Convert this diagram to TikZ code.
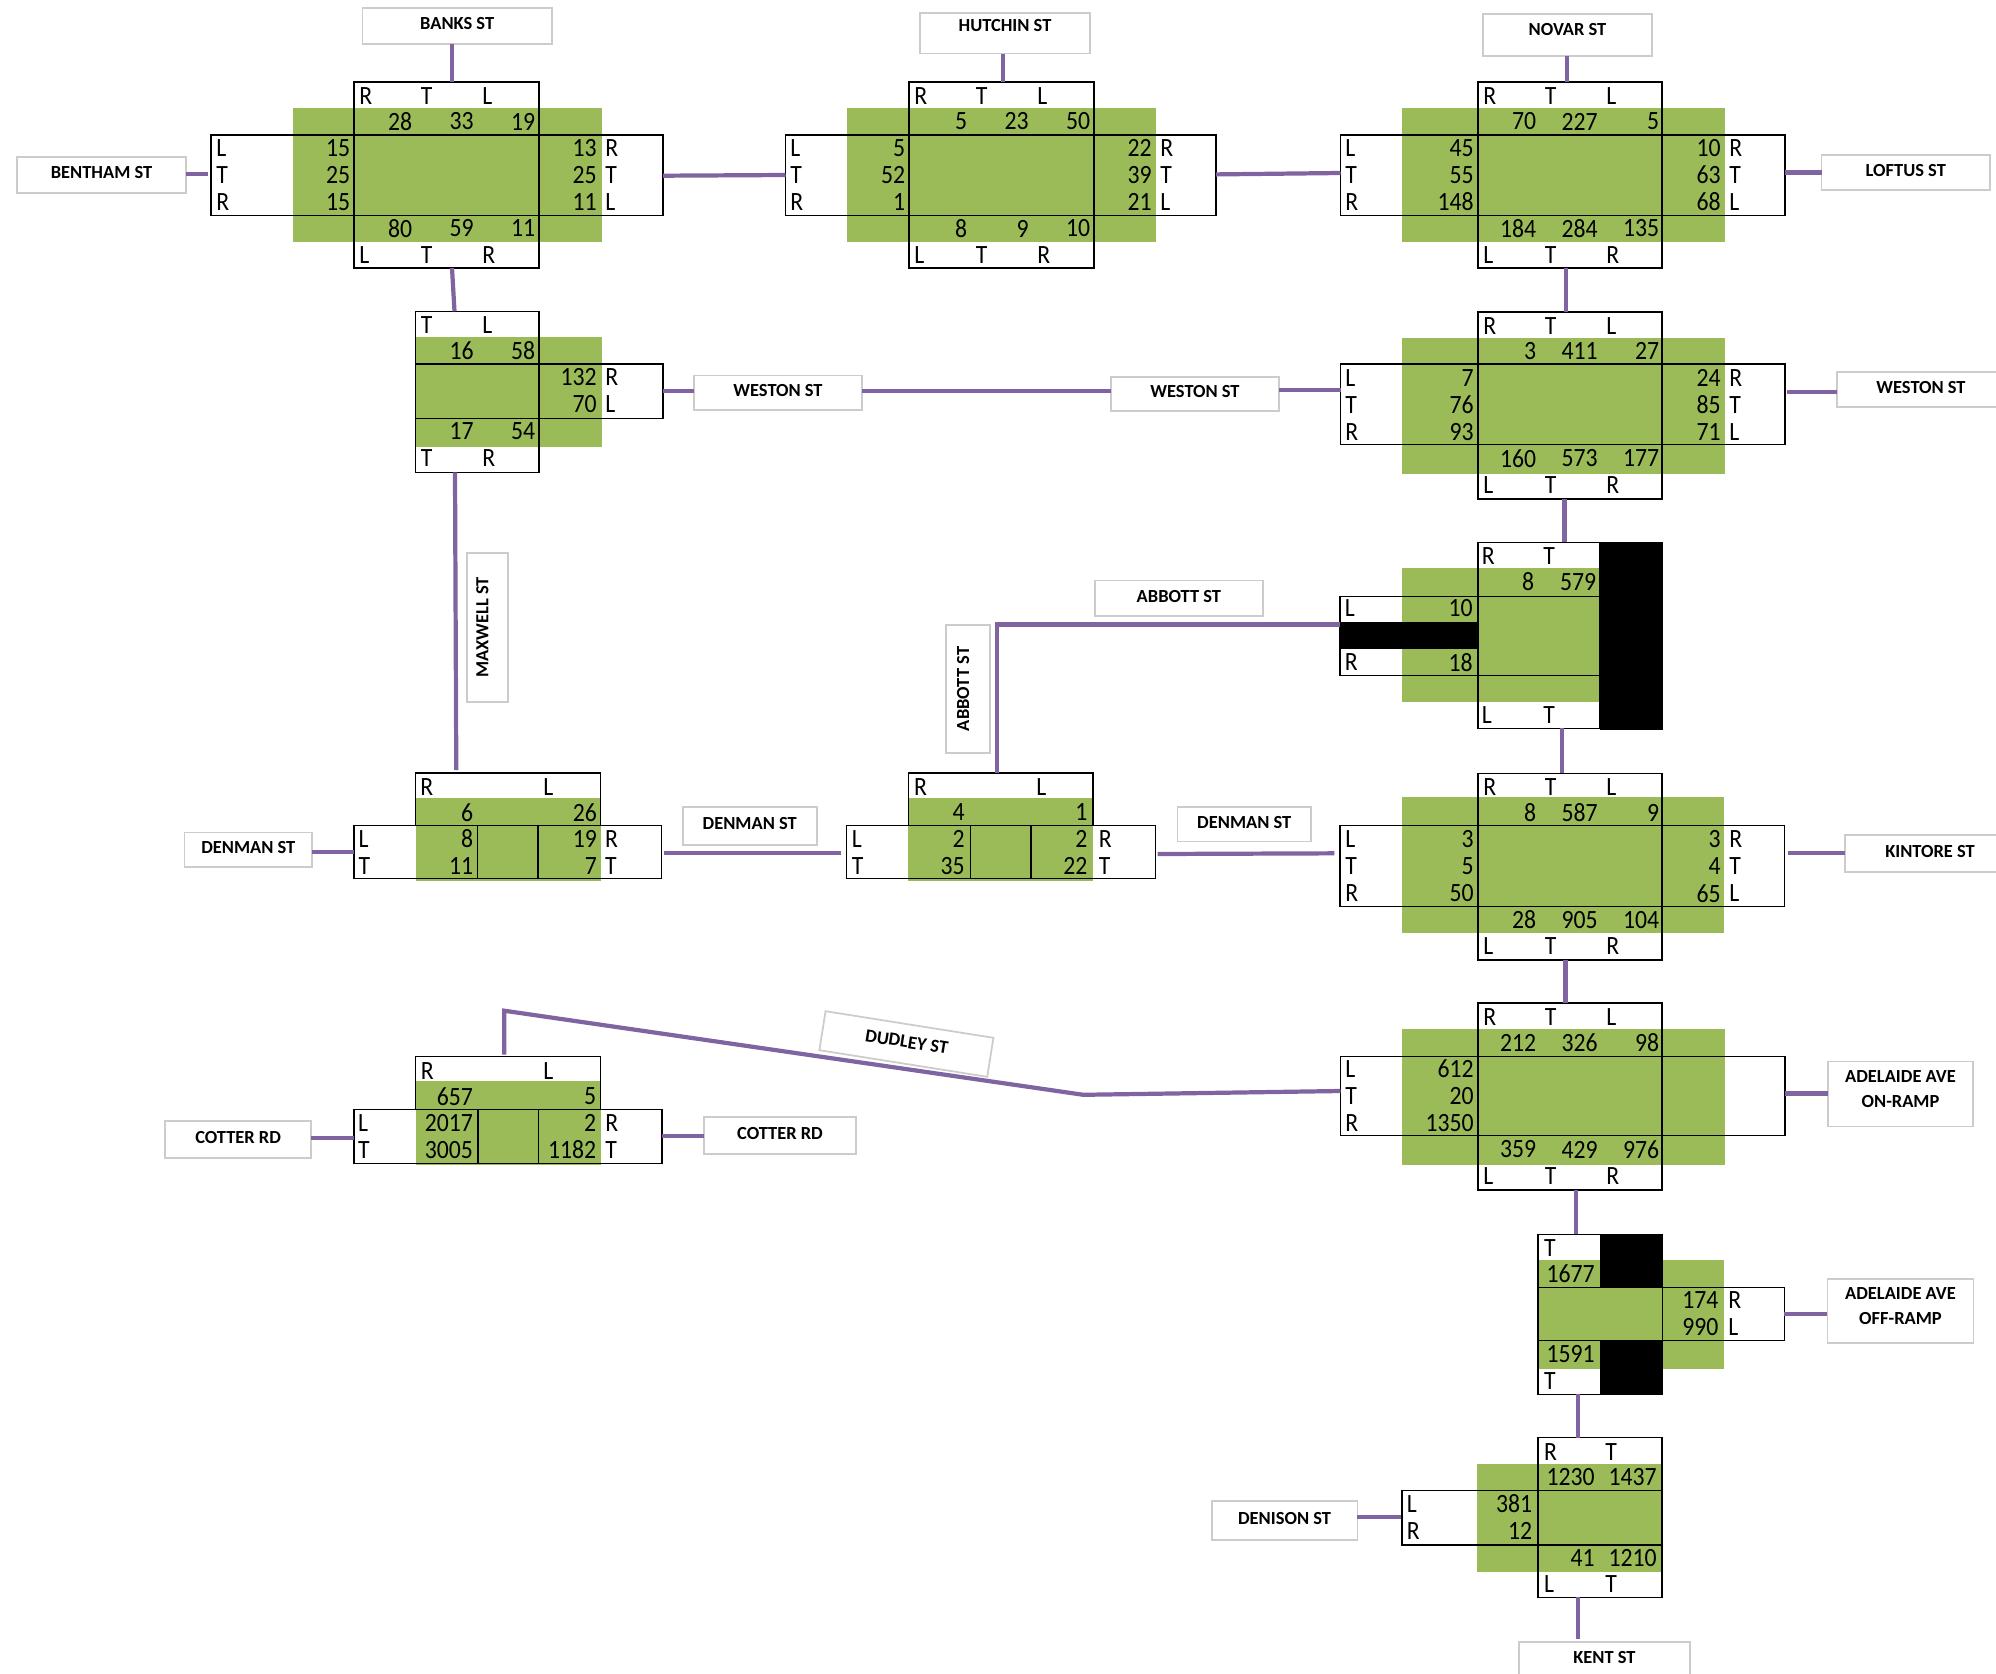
\documentclass[tikz,border=0pt]{standalone}
\usepackage{fontspec}
\setmainfont{Carlito}
\newfontfamily\cellfont[FakeStretch=0.9]{Carlito}
\definecolor{grn}{HTML}{9BBB59}
\definecolor{roadc}{HTML}{8064A2}
\tikzset{
  road/.style={draw=roadc,line width=2.4pt},
  street/.style={draw=black!20,line width=1pt,fill=white,inner sep=0pt,outer sep=0pt,align=center,text depth=2.5pt,font=\fontsize{10.5}{14}\selectfont\bfseries},
  gridbox/.style={draw=black,line width=0.8pt,inner sep=0pt,outer sep=0pt},
  lett/.style={anchor=west,inner sep=0pt,font=\cellfont\fontsize{15}{17}\selectfont},
  numb/.style={anchor=east,inner sep=0pt,font=\cellfont\fontsize{15}{17}\selectfont},
}
\begin{document}
\begin{tikzpicture}[x=0.02cm,y=-0.02cm]
  \useasboundingbox (0,0) rectangle (1996,1674);
  % table rows, measured from the top of a junction
  \def\yA{14}\def\yB{39.5}\def\yC{66}\def\yD{93}\def\yE{120}\def\yF{146.5}\def\yG{173}
  \def\Grid#1#2#3#4#5{\node[gridbox,minimum width={(#4-(#2))*0.02cm},minimum height={(#5-(#3))*0.02cm}] (#1) at ({(#2+#4)/2},{(#3+#5)/2}){};}
  \def\Sign#1#2#3#4#5#6#7{\node[street,#1,minimum width={(#5-(#3))*0.02cm},minimum height={(#6-(#4))*0.02cm}] (#2) at ({(#3+#5)/2},{(#4+#6)/2}){#7};}
  \def\Lets#1#2#3{\foreach[count=\nn] \xv/\tx in {#3}{\node[lett] (l#1#2\nn) at(\xv,\csname y#2\endcsname){\tx};}}
  \def\Nums#1#2#3{\foreach[count=\nn] \xv/\tx in {#3}{\node[numb] (n#1#2\nn) at(\xv,\csname y#2\endcsname){\tx};}}
  % street names
  \Sign{}{banks}{362.5}{7.7}{551.8}{43.7}{BANKS ST}
  \Sign{}{bentham}{17}{157}{186}{192.7}{BENTHAM ST}
  \Sign{text depth=9pt}{hutchin}{920}{12.7}{1090}{53.5}{HUTCHIN ST}
  \Sign{text depth=6pt}{novar}{1483}{14}{1652}{56}{NOVAR ST}
  \Sign{}{loftus}{1821.6}{155}{1990}{190}{LOFTUS ST}
  \Sign{}{westonA}{694}{375.5}{862}{410}{WESTON ST}
  \Sign{}{westonB}{1111}{377}{1279}{411}{WESTON ST}
  \Sign{}{westonC}{1837}{372}{2005}{407}{WESTON ST}
  \Sign{}{abbottH}{1094.7}{580.5}{1263}{616}{ABBOTT ST}
  \Sign{}{denmanA}{184.6}{832.5}{312}{867}{DENMAN ST}
  \Sign{}{denmanB}{682.8}{807.3}{816.7}{844.7}{DENMAN ST}
  \Sign{}{denmanC}{1177.5}{807}{1311}{841.5}{DENMAN ST}
  \Sign{}{kintore}{1845}{835}{2015}{872}{KINTORE ST}
  \Sign{text depth=6pt}{onramp}{1828}{1061.6}{1973}{1126.6}{ADELAIDE AVE\\ON-RAMP}
  \Sign{text depth=6pt}{offramp}{1827.4}{1279.3}{1973.6}{1343.3}{ADELAIDE AVE\\OFF-RAMP}
  \Sign{}{denison}{1211.7}{1501}{1357.4}{1539.7}{DENISON ST}
  \Sign{}{kent}{1518.8}{1642}{1689.9}{1678}{KENT ST}
  \Sign{}{cotterA}{165}{1121}{311.3}{1158.3}{COTTER RD}
  \Sign{}{cotterB}{704}{1117}{856}{1154.3}{COTTER RD}
  \node[street,rotate=90,text depth=6pt,minimum width=2.99cm,minimum height=0.83cm] (maxwell) at (487.6,627.5){MAXWELL ST};
  \node[street,rotate=90,text depth=5.5pt,minimum width=2.57cm,minimum height=0.87cm] (abbottV) at (968,689){ABBOTT ST};
  \node[street,rotate=-9,minimum width=3.4cm,minimum height=0.79cm] (dudley) at (906.4,1044){DUDLEY ST};
  % Banks St
  \begin{scope}[shift={(354,82)}]
    \fill[grn](-61.5,26)rectangle(248,160);
    \Grid{jav}{0}{0}{185}{186}\Grid{jah}{-143}{53}{309}{133.5}
    \Lets{ja}{A}{5/R,66.5/T,128/L}\Nums{ja}{B}{58.5/28,120/33,181.5/19}
    \Lets{ja}{C}{-138/L,251/R}\Nums{ja}{C}{-3.5/15,243/13}
    \Lets{ja}{D}{-138/T,251/T}\Nums{ja}{D}{-3.5/25,243/25}
    \Lets{ja}{E}{-138/R,251/L}\Nums{ja}{E}{-3.5/15,243/11}
    \Nums{ja}{F}{58.5/80,120/59,181.5/11}\Lets{ja}{G}{5/L,66.5/T,128/R}
  \end{scope}
  % Hutchin St
  \begin{scope}[shift={(909,82)}]
    \fill[grn](-62.5,26)rectangle(247,160);
    \Grid{jbv}{0}{0}{185}{186}\Grid{jbh}{-123.5}{53}{307}{133.5}
    \Lets{jb}{A}{5/R,66.5/T,128/L}\Nums{jb}{B}{58.5/5,120/23,181.5/50}
    \Lets{jb}{C}{-119/L,251/R}\Nums{jb}{C}{-3.5/5,243/22}
    \Lets{jb}{D}{-119/T,251/T}\Nums{jb}{D}{-3.5/52,243/39}
    \Lets{jb}{E}{-119/R,251/L}\Nums{jb}{E}{-3.5/1,243/21}
    \Nums{jb}{F}{58.5/8,120/9,181.5/10}\Lets{jb}{G}{5/L,66.5/T,128/R}
  \end{scope}
  % Novar St
  \begin{scope}[shift={(1478,82)}]
    \fill[grn](-76,26)rectangle(247,160);
    \Grid{jcv}{0}{0}{184}{186}\Grid{jch}{-137.5}{53}{307}{133.5}
    \Lets{jc}{A}{5/R,66.5/T,128/L}\Nums{jc}{B}{58.5/70,120/227,181.5/5}
    \Lets{jc}{C}{-133/L,251/R}\Nums{jc}{C}{-4/45,243/10}
    \Lets{jc}{D}{-133/T,251/T}\Nums{jc}{D}{-4/55,243/63}
    \Lets{jc}{E}{-133/R,251/L}\Nums{jc}{E}{-4/148,243/68}
    \Nums{jc}{F}{58.5/184,120/284,181.5/135}\Lets{jc}{G}{5/L,66.5/T,128/R}
  \end{scope}
  % Weston St, west end
  \begin{scope}[shift={(354,311.3)}]
    \fill[grn](61.6,26)rectangle(248,135.4);
    \Grid{jdv}{61.6}{0}{185}{161}\Grid{jdh}{61.6}{52.7}{309}{107}
    \Lets{jd}{A}{66.5/T,128/L}\Nums{jd}{B}{120/16,181.5/58}
    \Lets{jd}{C}{251/R}\Nums{jd}{C}{243/132}
    \Lets{jd}{D}{251/L}\Nums{jd}{D}{243/70}
    \Nums{jd}{E}{120/17,181.5/54}\Lets{jd}{F}{66.5/T,128/R}
  \end{scope}
  % Weston St, east end
  \begin{scope}[shift={(1478,311.9)}]
    \fill[grn](-76,26)rectangle(247,161.6);
    \Grid{jev}{0}{0}{184}{187}\Grid{jeh}{-137.5}{52}{307}{132.4}
    \Lets{je}{A}{5/R,66.5/T,128/L}\Nums{je}{B}{58.5/3,120/411,181.5/27}
    \Lets{je}{C}{-133/L,251/R}\Nums{je}{C}{-4/7,243/24}
    \Lets{je}{D}{-133/T,251/T}\Nums{je}{D}{-4/76,243/85}
    \Lets{je}{E}{-133/R,251/L}\Nums{je}{E}{-4/93,243/71}
    \Nums{je}{F}{58.5/160,120/573,181.5/177}\Lets{je}{G}{5/L,66.5/T,128/R}
  \end{scope}
  % Abbott St
  \begin{scope}[shift={(1478,542.3)}]
    \fill[grn](-76,26)rectangle(121.6,160);
    \Grid{jfv}{0}{0}{121.6}{186}\Grid{jfh}{-138}{54}{121.6}{133}
    \Lets{jf}{A}{3.5/R,65/T}\Nums{jf}{B}{56.5/8,118.5/579}
    \Lets{jf}{C}{-133.6/L}\Nums{jf}{C}{-5/10}
    \Lets{jf}{E}{-133.6/R}\Nums{jf}{E}{-5/18}
    \Lets{jf}{G}{3.5/L,65/T}
    \fill[black](121.6,-0.6)rectangle(184.6,187.7);
    \fill[black](-138,80)rectangle(0,107);
  \end{scope}
  % Kintore St
  \begin{scope}[shift={(1478,773.3)}]
    \fill[grn](-76,24)rectangle(246.3,160);
    \Grid{jgv}{0}{0}{184}{186.7}\Grid{jgh}{-138}{52.4}{306.7}{133.4}
    \Lets{jg}{A}{5/R,66.5/T,128/L}\Nums{jg}{B}{58.5/8,120/587,181.5/9}
    \Lets{jg}{C}{-133/L,251/R}\Nums{jg}{C}{-4/3,243/3}
    \Lets{jg}{D}{-133/T,251/T}\Nums{jg}{D}{-4/5,243/4}
    \Lets{jg}{E}{-133/R,251/L}\Nums{jg}{E}{-4/50,243/65}
    \Nums{jg}{F}{58.5/28,120/905,181.5/104}\Lets{jg}{G}{5/L,66.5/T,128/R}
  \end{scope}
  % Adelaide Ave on-ramp
  \begin{scope}[shift={(1478,1003)}]
    \fill[grn](-76,25.5)rectangle(247,162);
    \Grid{jhv}{0}{0}{184}{187}\Grid{jhh}{-137.5}{53.5}{307}{132.5}
    \Lets{jh}{A}{5/R,66.5/T,128/L}\Nums{jh}{B}{58.5/212,120/326,181.5/98}
    \Lets{jh}{C}{-133/L}\Nums{jh}{C}{-4/612}
    \Lets{jh}{D}{-133/T}\Nums{jh}{D}{-4/20}
    \Lets{jh}{E}{-133/R}\Nums{jh}{E}{-4/1350}
    \Nums{jh}{F}{58.5/359,120/429,181.5/976}\Lets{jh}{G}{5/L,66.5/T,128/R}
  \end{scope}
  % Adelaide Ave off-ramp
  \begin{scope}[shift={(1478,1234.3)}]
    \fill[grn](60,26)rectangle(246.4,134.4);
    \Grid{jiv}{60}{0}{184.4}{160}\Grid{jih}{60}{53}{306.3}{106}
    \Lets{ji}{A}{65.7/T}\Nums{ji}{B}{117/1677}
    \Lets{ji}{C}{250/R}\Nums{ji}{C}{240.8/174}
    \Lets{ji}{D}{250/L}\Nums{ji}{D}{240.8/990}
    \Nums{ji}{E}{117/1591}\Lets{ji}{F}{65.7/T}
    \fill[black](121.5,0)rectangle(184.4,53);
    \fill[black](121.5,106)rectangle(184.4,160);
  \end{scope}
  % Denison St
  \begin{scope}[shift={(1478,1437.7)}]
    \fill[grn](-1.4,26.3)rectangle(184,134);
    \Grid{jjv}{60}{0}{184}{159.6}\Grid{jjh}{-76}{53}{184}{107.3}
    \Lets{jj}{A}{65.7/R,127/T}\Nums{jj}{B}{117/1230,179/1437}
    \Lets{jj}{C}{-71.4/L}\Nums{jj}{C}{54.5/381}
    \Lets{jj}{D}{-71.4/R}\Nums{jj}{D}{54.5/12}
    \Nums{jj}{E}{117/41,179/1210}\Lets{jj}{F}{65.7/L,127/T}
  \end{scope}
  % Cotter Rd
  \begin{scope}[shift={(354,1056.7)}]
    \fill[grn](61.6,24.6)rectangle(246.6,108.5);
    \Grid{jkv}{61.6}{0}{246.6}{52.6}\Grid{jkh}{0}{52.6}{308}{107}
    \draw[line width=0.8pt](123.8,52.6)--(123.8,107);\draw[line width=0.8pt](184.6,52.6)--(184.6,107);
    \Lets{jk}{A}{66.4/R,189/L}\Nums{jk}{B}{119.2/657,242.6/5}
    \Lets{jk}{C}{3.8/L,251/R}\Nums{jk}{C}{119.2/2017,242.6/2}
    \Lets{jk}{D}{3.8/T,251/T}\Nums{jk}{D}{119.2/3005,242.6/1182}
  \end{scope}
  % Denman St, west
  \begin{scope}[shift={(354,773)}]
    \fill[grn](61.6,24.7)rectangle(246.6,107.7);
    \Grid{jlv}{61.6}{0}{246.6}{52.7}\Grid{jlh}{0}{52.7}{307.7}{105.7}
    \draw[line width=0.8pt](123.4,52.7)--(123.4,105.7);\draw[line width=0.8pt](184.1,52.7)--(184.1,105.7);
    \Lets{jl}{A}{66/R,189/L}\Nums{jl}{B}{119.6/6,243.2/26}
    \Lets{jl}{C}{4.2/L,250.8/R}\Nums{jl}{C}{119.6/8,243.2/19}
    \Lets{jl}{D}{4.2/T,250.8/T}\Nums{jl}{D}{119.6/11,243.2/7}
  \end{scope}
  % Denman St, centre
  \begin{scope}[shift={(846.5,773)}]
    \fill[grn](61.8,24.7)rectangle(246.5,107.7);
    \Grid{jmv}{61.8}{0}{246.5}{52.7}\Grid{jmh}{0}{52.7}{309}{105.7}
    \draw[line width=0.8pt](124.2,52.7)--(124.2,105.7);\draw[line width=0.8pt](184.3,52.7)--(184.3,105.7);
    \Lets{jm}{A}{67.2/R,189.5/L}\Nums{jm}{B}{118.5/4,241.2/1}
    \Lets{jm}{C}{4.9/L,252/R}\Nums{jm}{C}{118.5/2,241.2/2}
    \Lets{jm}{D}{4.9/T,252/T}\Nums{jm}{D}{118.5/35,241.2/22}
  \end{scope}
  % roads, north to south
  \draw[road](452,0 |- banks.south)--(452,0 |- jav.north);
  \draw[road,shorten >=1.7pt](bentham.east |- 0,174.3)--(jah.west |- 0,174.3);
  \draw[road](jah.east |- 0,175.7)--(jbh.west |- 0,175);
  \draw[road](1003,0 |- hutchin.south)--(1003,0 |- jbv.north);
  \draw[road](jbh.east |- 0,174.4)--(jch.west |- 0,173);
  \draw[road](1567,0 |- novar.south)--(1567,0 |- jcv.north);
  \draw[road](jch.east |- 0,172.5)--(loftus.west |- 0,172.5);
  \draw[road](452,0 |- jav.south)--(454.5,0 |- jdv.north);
  \draw[road](1566,0 |- jcv.south)--(1566,0 |- jev.north);
  \draw[road](jdh.east |- 0,390.7)--(westonA.west |- 0,390.7);
  \draw[road](westonA.east |- 0,391)--(westonB.west |- 0,391);
  \draw[road](westonB.east |- 0,390)--(jeh.west |- 0,390);
  \draw[road,shorten <=1.2pt](jeh.east |- 0,392)--(westonC.west |- 0,392);
  \draw[road](1564.5,0 |- jev.south)--(1564.5,0 |- jfv.north);
  \draw[road](1562,0 |- jfv.south)--(1562,0 |- jgv.north);
  \draw[road](1565.4,0 |- jgv.south)--(1565.4,0 |- jhv.north);
  \draw[road](1575.6,0 |- jhv.south)--(1575.6,0 |- jiv.north);
  \draw[road](1578,0 |- jiv.south)--(1578,0 |- jjv.north);
  \draw[road,shorten >=1.7pt](1577.7,0 |- jjv.south)--(1577.7,0 |- kent.north);
  \draw[road,shorten >=0.6pt](denison.east |- 0,1517)--(jjh.west |- 0,1517);
  \draw[road](jih.east |- 0,1314)--(offramp.west |- 0,1314);
  \draw[road](jhh.east |- 0,1093.5)--(onramp.west |- 0,1093.5);
  \draw[road,shorten <=1.7pt](jgh.east |- 0,853.3)--(kintore.west |- 0,853.3);
  \draw[road,shorten <=1.2pt,shorten >=3.2pt](jmh.east |- 0,854)--(jgh.west |- 0,853.3);
  \draw[road,shorten <=1.4pt,shorten >=3.4pt](jlh.east |- 0,852.7)--(jmh.west |- 0,852.7);
  \draw[road](denmanA.east |- 0,851.7)--(jlh.west |- 0,851.7);
  \draw[road,shorten >=1.7pt](455,0 |- jdv.south)--(456.3,0 |- jlv.north);
  % Abbott St and Dudley St bend on the way
  \coordinate (abbottbend) at (996.7,624.5);
  \coordinate (dudleyA) at (504.2,1010.7);
  \coordinate (dudleyB) at (1083.3,1094.8);
  \draw[road](996.7,0 |- jmv.north)--(abbottbend)--(jfh.west |- abbottbend);
  \draw[road,shorten <=1.2pt](504.2,0 |- jkv.north)--(dudleyA)--(dudleyB)--(jhh.west |- 0,1091);
  \draw[road](cotterA.east |- 0,1138.3)--(jkh.west |- 0,1138.3);
  \draw[road](jkh.east |- 0,1135.7)--(cotterB.west |- 0,1135.7);
\end{tikzpicture}
\end{document}
